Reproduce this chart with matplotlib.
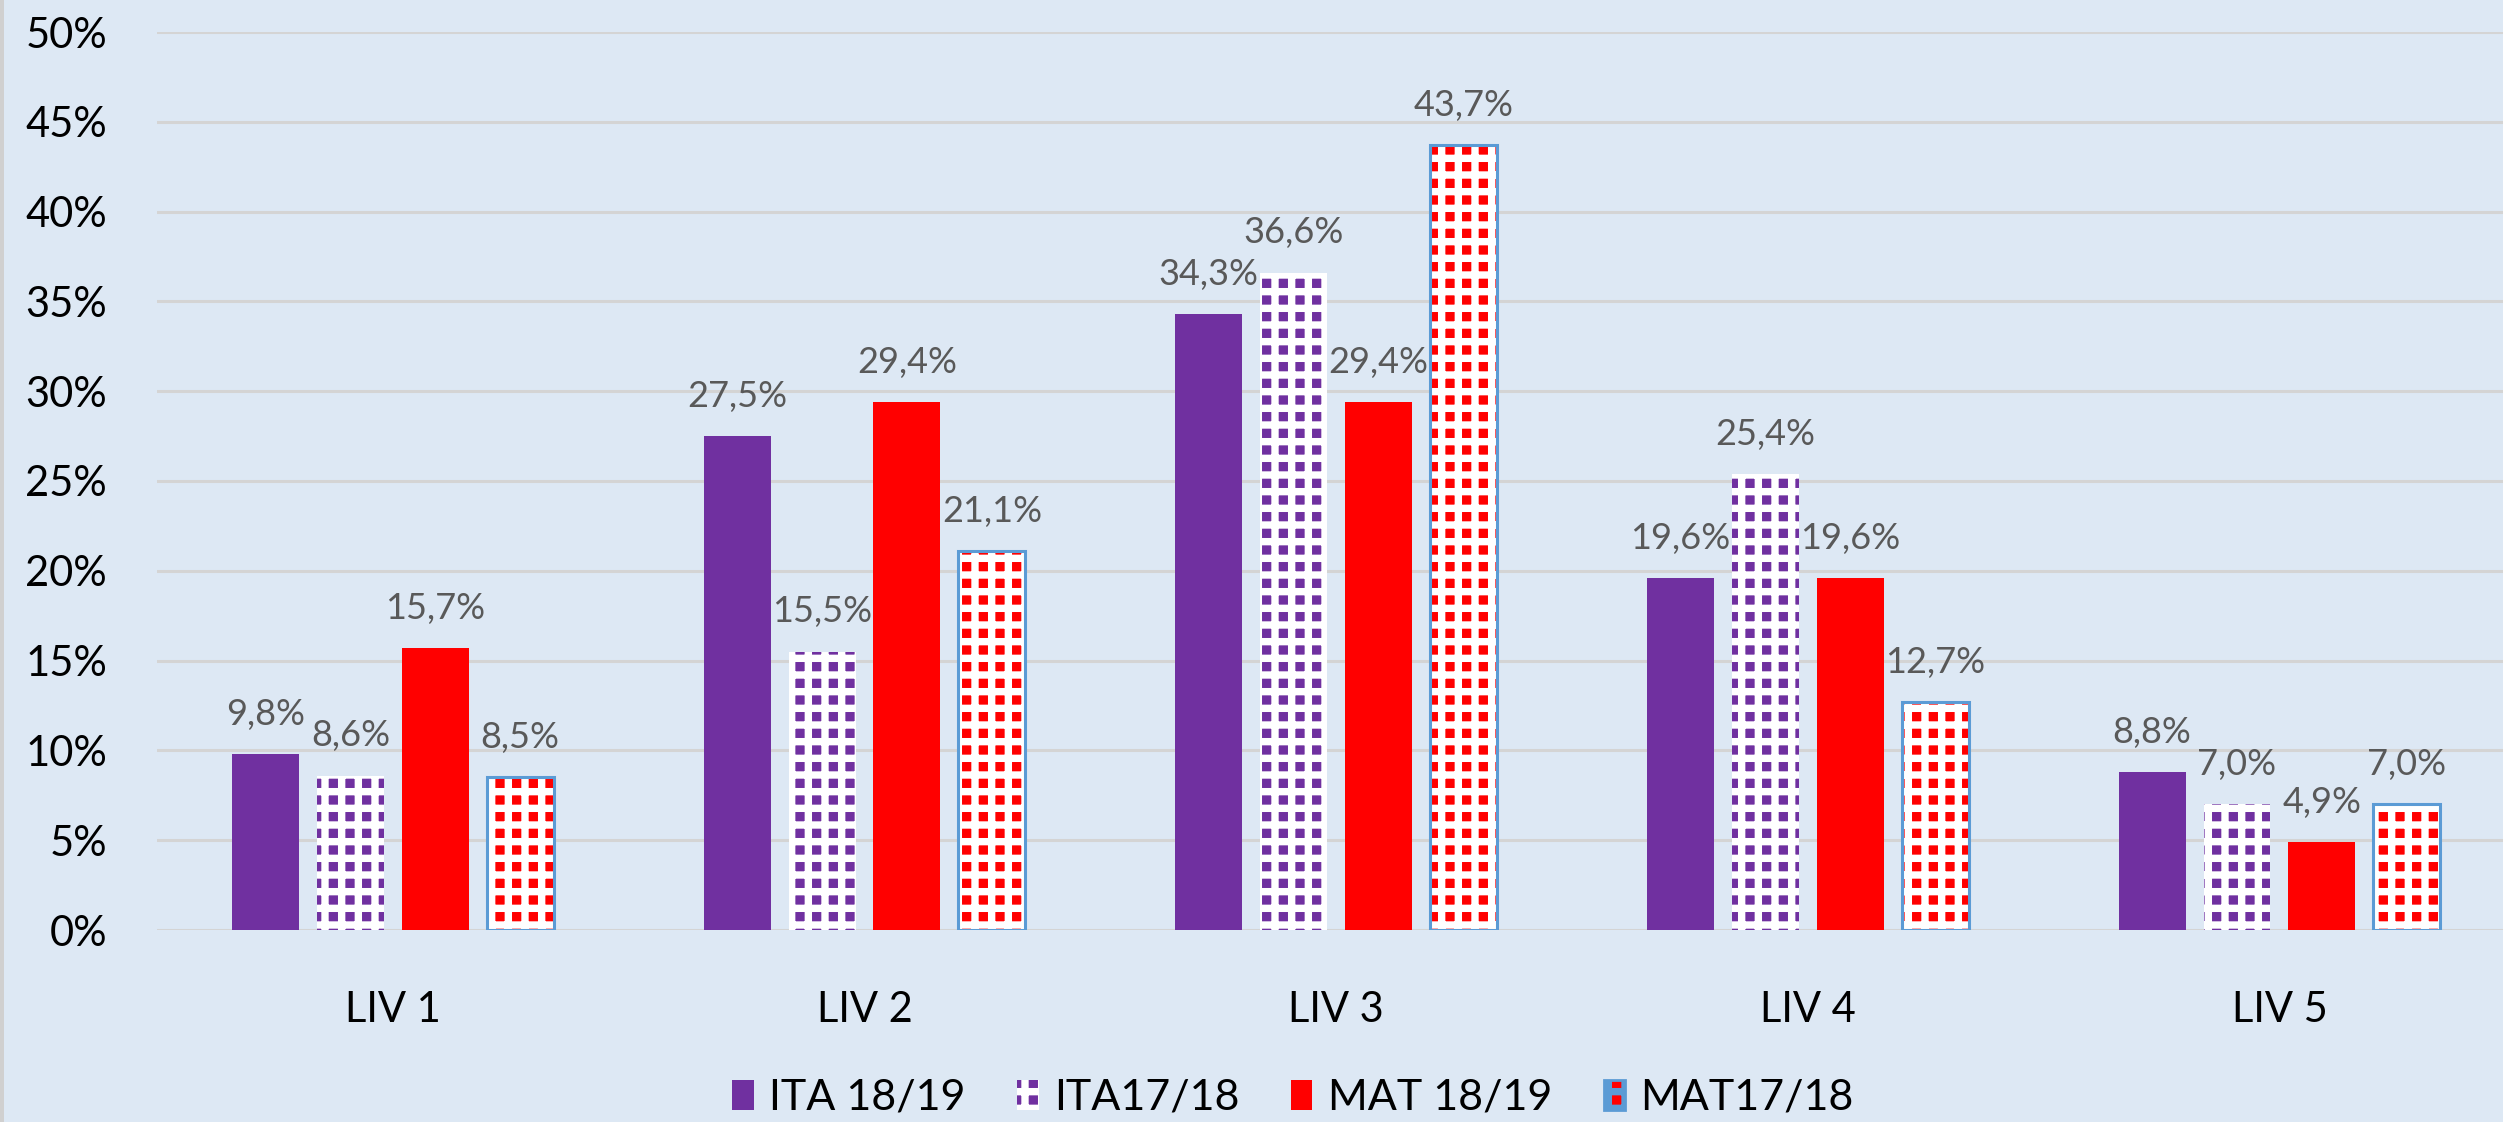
import matplotlib.pyplot as plt
import numpy as np
from matplotlib.patches import Rectangle

categories = ["LIV 1", "LIV 2", "LIV 3", "LIV 4", "LIV 5"]
series_names = ["ITA 18/19", "ITA17/18", "MAT 18/19", "MAT17/18"]
ita_1819 = [9.8, 27.5, 34.3, 19.6, 8.8]
ita_1718 = [8.6, 15.5, 36.6, 25.4, 7.0]
mat_1819 = [15.7, 29.4, 29.4, 19.6, 4.9]
mat_1718 = [8.5, 21.1, 43.7, 12.7, 7.0]
y_ticks = [0, 5, 10, 15, 20, 25, 30, 35, 40, 45, 50]

PURPLE = "#7030A0"
RED = "#FF0000"
BG = "#DDE8F4"
GRID = "#D4D4D4"
OUTLINE = "#5B9BD5"

plt.rcParams["font.family"] = ["Lato", "DejaVu Sans"]
plt.rcParams["hatch.linewidth"] = 5.3

fig = plt.figure(figsize=(25.03, 11.22), dpi=100, facecolor=BG)
ax = fig.add_axes([157 / 2503, 1 - 930 / 1122, 1 - 157 / 2503, (930 - 32) / 1122])
ax.set_facecolor(BG)

x = np.arange(len(categories))
width = 0.142
step = 0.18
offsets = [-1.5 * step, -0.5 * step, 0.5 * step, 1.5 * step]

colors = [PURPLE, PURPLE, RED, RED]
hatches = [None, "+", None, "+"]
all_values = [ita_1819, ita_1718, mat_1819, mat_1718]

for i, vals in enumerate(all_values):
    if hatches[i]:
        ax.bar(x + offsets[i], vals, width, facecolor=colors[i],
               edgecolor="white", linewidth=0, hatch=hatches[i], zorder=3)
        if i == 3:
            ax.bar(x + offsets[i], vals, width, facecolor="none",
                   edgecolor=OUTLINE, linewidth=2.2, zorder=4)
    else:
        ax.bar(x + offsets[i], vals, width, color=colors[i], zorder=3)
    for xi, v in zip(x + offsets[i], vals):
        ax.annotate(f"{v:.1f}%".replace(".", ","), (xi, v), xytext=(0, 21),
                    textcoords="offset points", ha="center", va="baseline",
                    fontsize=26, color="#595959", zorder=5)

ax.set_ylim(0, 50)
ax.set_xlim(-0.5, 4.474)
ax.set_yticks(y_ticks)
ax.set_yticklabels([f"{t}%" for t in y_ticks])
ax.set_xticks(x)
ax.set_xticklabels(categories)
ax.tick_params(axis="y", length=0, pad=36, labelsize=30)
ax.tick_params(axis="x", length=0, pad=44, labelsize=30)
ax.yaxis.grid(True, color=GRID, linewidth=2.2, zorder=0)
ax.set_axisbelow(True)
for s in ax.spines.values():
    s.set_visible(False)

leg_handles = [
    Rectangle((0, 0), 1, 1, facecolor=PURPLE, edgecolor="none"),
    Rectangle((0, 0), 1, 1, facecolor=PURPLE, edgecolor="white", linewidth=0, hatch="+"),
    Rectangle((0, 0), 1, 1, facecolor=RED, edgecolor="none"),
    Rectangle((0, 0), 1, 1, facecolor=RED, edgecolor=OUTLINE, linewidth=2, hatch="+"),
]
fig.legend(leg_handles, series_names, loc="center", ncol=4,
           bbox_to_anchor=(1293 / 2503, 1 - 1098 / 1122), frameon=False,
           fontsize=31, handlelength=0.5, handleheight=0.7,
           handletextpad=0.35, columnspacing=1.2)

fig.add_artist(Rectangle((0, 0), 4 / 2503, 1, transform=fig.transFigure,
                         facecolor="#D0D0D0", edgecolor="none"))

fig.savefig("out.png", dpi=100, facecolor=BG)
